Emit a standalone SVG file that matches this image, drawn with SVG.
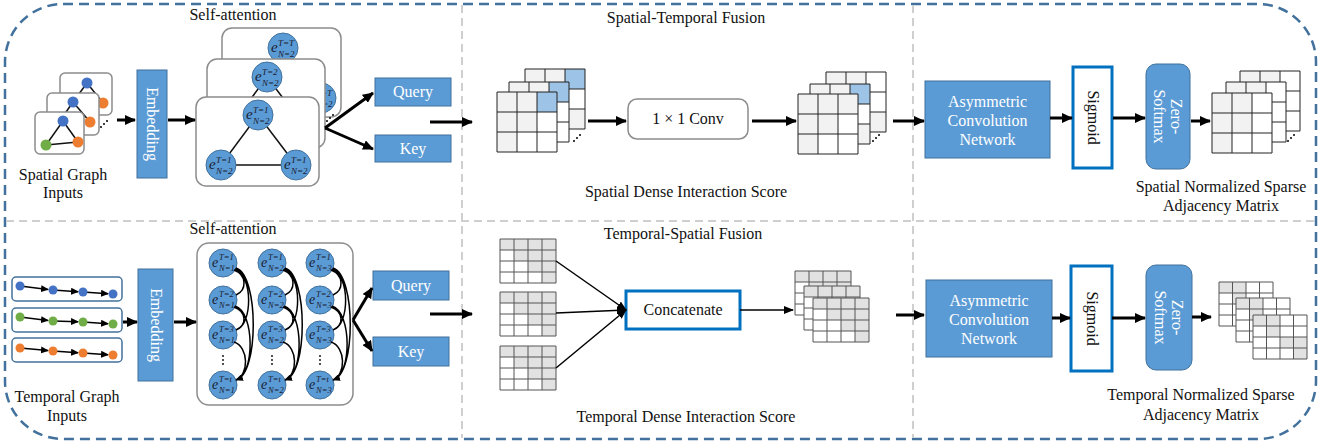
<svg xmlns="http://www.w3.org/2000/svg" width="1322" height="444" viewBox="0 0 1322 444">
<defs>
<style>
.t{font-family:"Liberation Serif","Times New Roman",serif;font-size:16px;fill:#111}
.w{fill:#fff}
.bx{fill:#5b9bd5;stroke:#41719c;stroke-width:1}
.card{fill:#fff;stroke:#8c8c8c;stroke-width:1.5}
.arr{fill:none;stroke:#000;stroke-width:3;marker-end:url(#ah)}
.thin{fill:none;stroke:#000;stroke-width:1.5;marker-end:url(#am)}
.arc{fill:none;stroke:#000;stroke-width:1.5;marker-end:url(#as)}
.edge{stroke:#111;stroke-width:1.5}
.en{fill:#5b9bd5;stroke:#41719c;stroke-width:1}
.e{font-family:"Liberation Serif","Times New Roman",serif;font-style:italic;font-size:15px;fill:#1a1a2e}
.e2{font-family:"Liberation Serif","Times New Roman",serif;font-style:italic;font-size:14px;fill:#1a1a2e}
.s{font-size:9px}
.s2{font-size:8.5px}
.gl{fill:none;stroke:#222;stroke-width:1}
.gl2{fill:none;stroke:#555;stroke-width:1}
.g{fill:#f2f2f2}
.bl{fill:#9dc3e6}
.wh{fill:#fff}
.g2{fill:#e2e2e2}
.nb{fill:#4472c4}
.no{fill:#ed7d31}
.ng{fill:#70ad47}
.blk{fill:#000}
.div{fill:none;stroke:#cfcfcf;stroke-width:2;stroke-dasharray:8 5}
.tr{fill:#fff;stroke:#41719c;stroke-width:1.5}
.ob{fill:#fff;stroke:#0070c0;stroke-width:3}
</style>
<marker id="ah" markerUnits="userSpaceOnUse" markerWidth="12" markerHeight="10" refX="10" refY="5" orient="auto"><path d="M0,0 L11,5 L0,10 z" fill="#000"/></marker>
<marker id="am" markerUnits="userSpaceOnUse" markerWidth="10" markerHeight="8" refX="9" refY="4" orient="auto"><path d="M0,0 L10,4 L0,8 z" fill="#000"/></marker>
<marker id="as" markerUnits="userSpaceOnUse" markerWidth="8" markerHeight="7" refX="7" refY="3.5" orient="auto"><path d="M0,0 L8,3.5 L0,7 z" fill="#000"/></marker>
<path id="grid3" d="M0,0h60v60h-60z M20,0v60 M40,0v60 M0,20h60 M0,40h60"/>
<path id="grid4s" d="M0,0h54v44h-54z M13.5,0v44 M27,0v44 M40.5,0v44 M0,11h54 M0,22h54 M0,33h54"/>
<g id="ut">
<rect width="56" height="44" fill="#fff"/>
<path d="M0,0H56V44H42V33H28V22H14V11H0z" fill="#e2e2e2"/>
<path d="M0,0h56v44h-56z M14,0v44 M28,0v44 M42,0v44 M0,11h56 M0,22h56 M0,33h56" fill="none" stroke="#555" stroke-width="1"/>
</g>
</defs>

<g id="frame">
<rect x="5" y="4" width="1311" height="435" rx="58" fill="none" stroke="#41719c" stroke-width="2.5" stroke-dasharray="10 6"/>
<line class="div" x1="462" y1="5" x2="462" y2="438"/>
<line class="div" x1="913" y1="5" x2="913" y2="438"/>
<line class="div" x1="6" y1="221" x2="1315" y2="221"/>
</g>

<!-- ===== Top row ===== -->
<g id="spatial-inputs">
<rect class="card" x="60" y="73" width="52" height="42" rx="5"/>
<line class="edge" x1="87" y1="83" x2="103" y2="103"/>
<line class="edge" x1="87" y1="83" x2="70" y2="106"/>
<circle class="nb" cx="87" cy="83" r="5.5"/>
<circle class="no" cx="103" cy="103" r="5.5"/>
<rect class="card" x="47" y="93" width="52" height="42" rx="5"/>
<line class="edge" x1="73" y1="102" x2="90" y2="122"/>
<line class="edge" x1="73" y1="102" x2="57" y2="125"/>
<circle class="nb" cx="73" cy="102" r="5.5"/>
<circle class="no" cx="90" cy="122" r="5.5"/>
<rect class="card" x="35" y="112" width="49" height="42" rx="5"/>
<line class="edge" x1="63" y1="121" x2="46" y2="145"/>
<line class="edge" x1="63" y1="121" x2="78" y2="142"/>
<line class="edge" x1="46" y1="145" x2="78" y2="142"/>
<circle class="nb" cx="63" cy="121" r="5.5"/>
<circle class="ng" cx="46" cy="145" r="5.5"/>
<circle class="no" cx="78" cy="142" r="5.5"/>
<circle class="blk" cx="101" cy="127" r="1"/><circle class="blk" cx="104" cy="124" r="1"/><circle class="blk" cx="107" cy="121" r="1"/>
<text class="t" x="63" y="180" text-anchor="middle">Spatial Graph</text>
<text class="t" x="63" y="198" text-anchor="middle">Inputs</text>
</g>

<g id="embedding-top">
<rect class="bx" x="137" y="70" width="30" height="108"/>
<text class="t w" transform="translate(152,124) rotate(90)" y="5" text-anchor="middle">Embedding</text>
</g>

<g id="self-attention-spatial">
<text class="t" x="233" y="20" text-anchor="middle">Self-attention</text>
<rect class="card" x="222" y="28" width="119" height="89" rx="10"/>
<line class="edge" x1="283" y1="48" x2="321" y2="98"/>
<line class="edge" x1="283" y1="48" x2="246" y2="98"/>
<circle class="en" cx="283" cy="48" r="15"/>
<text class="e" x="271" y="52">e<tspan class="s" x="278" y="46">T=T</tspan><tspan class="s" x="278" y="57">N=2</tspan></text>
<circle class="en" cx="321" cy="98" r="15"/>
<text class="e" x="309" y="102">e<tspan class="s" x="316" y="96">T=T</tspan><tspan class="s" x="316" y="107">N=2</tspan></text>
<rect class="card" x="207" y="59" width="118" height="89" rx="10"/>
<line class="edge" x1="267" y1="77" x2="230" y2="127"/>
<line class="edge" x1="267" y1="77" x2="305" y2="127"/>
<circle class="en" cx="267" cy="77" r="15"/>
<text class="e" x="255" y="81">e<tspan class="s" x="262" y="75">T=2</tspan><tspan class="s" x="262" y="86">N=2</tspan></text>
<rect class="card" x="196" y="97" width="123" height="89" rx="10"/>
<line class="edge" x1="258" y1="115" x2="221" y2="165"/>
<line class="edge" x1="258" y1="115" x2="296" y2="165"/>
<line class="edge" x1="221" y1="165" x2="296" y2="165"/>
<circle class="en" cx="258" cy="115" r="15"/>
<text class="e" x="246" y="119">e<tspan class="s" x="253" y="113">T=1</tspan><tspan class="s" x="253" y="124">N=2</tspan></text>
<circle class="en" cx="221" cy="165" r="15"/>
<text class="e" x="209" y="169">e<tspan class="s" x="216" y="163">T=1</tspan><tspan class="s" x="216" y="174">N=2</tspan></text>
<circle class="en" cx="296" cy="165" r="15"/>
<text class="e" x="284" y="169">e<tspan class="s" x="291" y="163">T=1</tspan><tspan class="s" x="291" y="174">N=2</tspan></text>
<circle class="blk" cx="327" cy="121" r="1"/><circle class="blk" cx="330" cy="118" r="1"/><circle class="blk" cx="333" cy="115" r="1"/>
</g>

<g id="query-top">
<rect class="bx" x="375" y="78" width="76" height="28"/>
<text class="t w" x="413" y="97" text-anchor="middle">Query</text>
</g>
<g id="key-top">
<rect class="bx" x="375" y="135" width="76" height="27"/>
<text class="t w" x="413" y="154" text-anchor="middle">Key</text>
</g>

<g id="spatial-fusion-title">
<text class="t" x="686" y="23" text-anchor="middle">Spatial-Temporal Fusion</text>
</g>

<g id="spatial-score-in">
<rect class="g" x="525" y="69" width="60" height="60"/>
<rect class="bl" x="565" y="69" width="20" height="20"/>
<rect class="wh" x="565" y="89" width="20" height="20"/>
<use href="#grid3" class="gl" x="525" y="69"/>
<rect class="g" x="509" y="82" width="60" height="60"/>
<rect class="bl" x="549" y="82" width="20" height="20"/>
<rect class="wh" x="549" y="102" width="20" height="40"/>
<use href="#grid3" class="gl" x="509" y="82"/>
<rect class="g" x="497" y="92" width="60" height="60"/>
<rect class="bl" x="537" y="92" width="20" height="20"/>
<rect class="wh" x="537" y="112" width="20" height="40"/>
<rect class="wh" x="517" y="132" width="20" height="20"/>
<use href="#grid3" class="gl" x="497" y="92"/>
<circle class="blk" cx="574" cy="141" r="1"/><circle class="blk" cx="577" cy="138" r="1"/><circle class="blk" cx="580" cy="135" r="1"/>
</g>

<g id="conv">
<rect x="628" y="99" width="120" height="40" rx="9" fill="#fff" stroke="#8c8c8c" stroke-width="1.5"/>
<text class="t" x="688" y="124" text-anchor="middle">1 × 1 Conv</text>
</g>

<g id="spatial-score-out">
<rect class="g" x="826" y="72" width="60" height="60"/>
<rect class="wh" x="866" y="72" width="20" height="40"/>
<use href="#grid3" class="gl" x="826" y="72"/>
<rect class="g" x="810" y="84" width="60" height="60"/>
<rect class="bl" x="850" y="84" width="20" height="20"/>
<rect class="wh" x="850" y="104" width="20" height="20"/>
<use href="#grid3" class="gl" x="810" y="84"/>
<rect class="g" x="798" y="94" width="60" height="60"/>
<rect class="wh" x="838" y="114" width="20" height="40"/>
<rect class="wh" x="818" y="134" width="20" height="20"/>
<use href="#grid3" class="gl" x="798" y="94"/>
<circle class="blk" cx="873" cy="141" r="1"/><circle class="blk" cx="876" cy="138" r="1"/><circle class="blk" cx="879" cy="135" r="1"/>
<text class="t" x="686" y="197" text-anchor="middle">Spatial Dense Interaction Score</text>
</g>

<g id="acn-top">
<rect class="bx" x="925" y="81" width="125" height="77"/>
<text class="t w" x="987.5" y="107" text-anchor="middle">Asymmetric</text>
<text class="t w" x="987.5" y="126" text-anchor="middle">Convolution</text>
<text class="t w" x="987.5" y="145" text-anchor="middle">Network</text>
</g>
<g id="sigmoid-top">
<rect class="ob" x="1073" y="67" width="39" height="101"/>
<text class="t" transform="translate(1092.5,117.5) rotate(90)" y="5" text-anchor="middle">Sigmoid</text>
</g>
<g id="softmax-top">
<rect class="bx" x="1146" y="64" width="44" height="105" rx="10"/>
<text class="t w" transform="translate(1168,116.5) rotate(90)" text-anchor="middle"><tspan x="0" y="-3">Zero-</tspan><tspan x="0" y="14">Softmax</tspan></text>
</g>

<g id="spatial-sparse">
<rect class="g" x="1240" y="71" width="60" height="60"/>
<rect class="wh" x="1280" y="71" width="20" height="60"/>
<rect class="wh" x="1260" y="111" width="20" height="20"/>
<use href="#grid3" class="gl" x="1240" y="71"/>
<rect class="g" x="1226" y="82" width="60" height="60"/>
<rect class="wh" x="1266" y="82" width="20" height="60"/>
<rect class="wh" x="1246" y="122" width="20" height="20"/>
<use href="#grid3" class="gl" x="1226" y="82"/>
<rect class="g" x="1212" y="93" width="60" height="60"/>
<rect class="wh" x="1252" y="93" width="20" height="60"/>
<rect class="wh" x="1232" y="133" width="20" height="20"/>
<use href="#grid3" class="gl" x="1212" y="93"/>
<circle class="blk" cx="1288" cy="141" r="1"/><circle class="blk" cx="1291" cy="138" r="1"/><circle class="blk" cx="1294" cy="135" r="1"/>
<text class="t" x="1221" y="192" text-anchor="middle">Spatial Normalized Sparse</text>
<text class="t" x="1221" y="211" text-anchor="middle">Adjacency Matrix</text>
</g>

<!-- ===== Bottom row ===== -->
<g id="temporal-inputs">
<rect class="tr" x="12" y="277" width="110" height="24" rx="4"/>
<rect class="tr" x="12" y="308" width="110" height="24" rx="4"/>
<rect class="tr" x="12" y="338" width="110" height="24" rx="4"/>
<text class="t" x="67" y="402" text-anchor="middle">Temporal Graph</text>
<text class="t" x="67" y="421" text-anchor="middle">Inputs</text>
</g>

<g id="embedding-bottom">
<rect class="bx" x="138" y="269" width="35" height="112"/>
<text class="t w" transform="translate(155.5,325) rotate(90)" y="5" text-anchor="middle">Embedding</text>
</g>

<g id="self-attention-temporal">
<text class="t" x="233" y="234" text-anchor="middle">Self-attention</text>
<rect class="card" x="197" y="243" width="156" height="162" rx="12"/>
<circle class="en" cx="223" cy="263" r="14"/><circle class="en" cx="272" cy="263" r="14"/><circle class="en" cx="320" cy="263" r="14"/>
<circle class="en" cx="223" cy="300" r="14"/><circle class="en" cx="272" cy="300" r="14"/><circle class="en" cx="320" cy="300" r="14"/>
<circle class="en" cx="223" cy="335" r="14"/><circle class="en" cx="272" cy="335" r="14"/><circle class="en" cx="320" cy="335" r="14"/>
<circle class="en" cx="223" cy="385" r="14"/><circle class="en" cx="272" cy="385" r="14"/><circle class="en" cx="320" cy="385" r="14"/>
<text class="e2" x="212" y="267">e<tspan class="s2" x="219" y="260">T=1</tspan><tspan class="s2" x="219" y="271">N=1</tspan></text>
<text class="e2" x="261" y="267">e<tspan class="s2" x="268" y="260">T=1</tspan><tspan class="s2" x="268" y="271">N=2</tspan></text>
<text class="e2" x="309" y="267">e<tspan class="s2" x="316" y="260">T=1</tspan><tspan class="s2" x="316" y="271">N=3</tspan></text>
<text class="e2" x="212" y="304">e<tspan class="s2" x="219" y="297">T=2</tspan><tspan class="s2" x="219" y="308">N=1</tspan></text>
<text class="e2" x="261" y="304">e<tspan class="s2" x="268" y="297">T=2</tspan><tspan class="s2" x="268" y="308">N=2</tspan></text>
<text class="e2" x="309" y="304">e<tspan class="s2" x="316" y="297">T=2</tspan><tspan class="s2" x="316" y="308">N=3</tspan></text>
<text class="e2" x="212" y="339">e<tspan class="s2" x="219" y="332">T=3</tspan><tspan class="s2" x="219" y="343">N=1</tspan></text>
<text class="e2" x="261" y="339">e<tspan class="s2" x="268" y="332">T=3</tspan><tspan class="s2" x="268" y="343">N=2</tspan></text>
<text class="e2" x="309" y="339">e<tspan class="s2" x="316" y="332">T=3</tspan><tspan class="s2" x="316" y="343">N=3</tspan></text>
<text class="e2" x="212" y="389">e<tspan class="s2" x="219" y="382">T=t</tspan><tspan class="s2" x="219" y="393">N=1</tspan></text>
<text class="e2" x="261" y="389">e<tspan class="s2" x="268" y="382">T=t</tspan><tspan class="s2" x="268" y="393">N=2</tspan></text>
<text class="e2" x="309" y="389">e<tspan class="s2" x="316" y="382">T=t</tspan><tspan class="s2" x="316" y="393">N=3</tspan></text>
<circle class="blk" cx="223" cy="356" r="0.9"/><circle class="blk" cx="223" cy="360" r="0.9"/><circle class="blk" cx="223" cy="364" r="0.9"/>
<circle class="blk" cx="272" cy="356" r="0.9"/><circle class="blk" cx="272" cy="360" r="0.9"/><circle class="blk" cx="272" cy="364" r="0.9"/>
<circle class="blk" cx="320" cy="356" r="0.9"/><circle class="blk" cx="320" cy="360" r="0.9"/><circle class="blk" cx="320" cy="364" r="0.9"/>
</g>

<g id="query-bottom">
<rect class="bx" x="373" y="271" width="76" height="29"/>
<text class="t w" x="411" y="291" text-anchor="middle">Query</text>
</g>
<g id="key-bottom">
<rect class="bx" x="373" y="337" width="76" height="29"/>
<text class="t w" x="411" y="357" text-anchor="middle">Key</text>
</g>

<g id="temporal-fusion-title">
<text class="t" x="683" y="239" text-anchor="middle">Temporal-Spatial Fusion</text>
</g>

<g id="temporal-score-in">
<use href="#ut" x="500" y="239"/>
<use href="#ut" x="500" y="292"/>
<use href="#ut" x="500" y="346"/>
</g>

<g id="concatenate">
<rect class="ob" x="626" y="291" width="114" height="38"/>
<text class="t" x="683" y="315" text-anchor="middle">Concatenate</text>
</g>

<g id="temporal-score-out">
<use href="#ut" x="795" y="271"/>
<use href="#ut" x="804" y="286"/>
<use href="#ut" x="813" y="298"/>
<text class="t" x="686" y="422" text-anchor="middle">Temporal Dense Interaction Score</text>
</g>

<g id="acn-bottom">
<rect class="bx" x="926" y="280" width="126" height="77"/>
<text class="t w" x="989" y="306" text-anchor="middle">Asymmetric</text>
<text class="t w" x="989" y="325" text-anchor="middle">Convolution</text>
<text class="t w" x="989" y="344" text-anchor="middle">Network</text>
</g>
<g id="sigmoid-bottom">
<rect class="ob" x="1071" y="266" width="41" height="105"/>
<text class="t" transform="translate(1091.5,318.5) rotate(90)" y="5" text-anchor="middle">Sigmoid</text>
</g>
<g id="softmax-bottom">
<rect class="bx" x="1146" y="265" width="46" height="105" rx="10"/>
<text class="t w" transform="translate(1169,317.5) rotate(90)" text-anchor="middle"><tspan x="0" y="-3">Zero-</tspan><tspan x="0" y="14">Softmax</tspan></text>
</g>

<g id="temporal-sparse">
<rect class="wh" x="1219" y="282" width="54" height="44"/>
<rect class="g2" x="1219" y="282" width="27" height="11"/>
<rect class="g2" x="1232.5" y="293" width="13.5" height="11"/>
<use href="#grid4s" class="gl2" x="1219" y="282"/>
<rect class="wh" x="1236" y="298" width="54" height="44"/>
<rect class="g2" x="1236" y="298" width="27" height="11"/>
<rect class="g2" x="1249.5" y="309" width="13.5" height="11"/>
<use href="#grid4s" class="gl2" x="1236" y="298"/>
<rect class="wh" x="1253" y="315" width="54" height="44"/>
<rect class="g2" x="1253" y="315" width="27" height="11"/>
<rect class="g2" x="1266.5" y="326" width="13.5" height="11"/>
<rect class="g2" x="1280" y="337" width="27" height="11"/>
<rect class="g2" x="1293.5" y="348" width="13.5" height="11"/>
<use href="#grid4s" class="gl2" x="1253" y="315"/>
<text class="t" x="1201" y="400" text-anchor="middle">Temporal Normalized Sparse</text>
<text class="t" x="1201" y="420" text-anchor="middle">Adjacency Matrix</text>
</g>

<g id="connectors">
<line class="arr" x1="117" y1="120" x2="135" y2="120"/>
<line class="arr" x1="168" y1="120" x2="195" y2="120"/>
<line class="arr" x1="325" y1="128" x2="373" y2="93"/>
<line class="arr" x1="325" y1="128" x2="373" y2="149"/>
<line class="arr" x1="430" y1="122" x2="472" y2="122"/>
<line class="arr" x1="588" y1="121" x2="626" y2="121"/>
<line class="arr" x1="752" y1="121" x2="796" y2="121"/>
<line class="arr" x1="893" y1="121" x2="924" y2="121"/>
<line class="arr" x1="1050" y1="118" x2="1072" y2="118"/>
<line class="arr" x1="1113" y1="118" x2="1145" y2="118"/>
<line class="arr" x1="1191" y1="121" x2="1210" y2="121"/>
<line class="arr" x1="123" y1="322" x2="137" y2="322"/>
<line class="arr" x1="174" y1="322" x2="196" y2="322"/>
<line class="arr" x1="353" y1="320" x2="372" y2="288"/>
<line class="arr" x1="353" y1="320" x2="372" y2="351"/>
<line class="arr" x1="430" y1="314" x2="472" y2="314"/>
<line class="arr" x1="896" y1="315" x2="924" y2="315"/>
<line class="arr" x1="1052" y1="318" x2="1070" y2="318"/>
<line class="arr" x1="1112" y1="318" x2="1145" y2="318"/>
<line class="arr" x1="1192" y1="317" x2="1211" y2="317"/>
<line class="thin" x1="556" y1="261" x2="626" y2="310"/>
<line class="thin" x1="556" y1="313" x2="626" y2="310"/>
<line class="thin" x1="556" y1="368" x2="626" y2="310"/>
<line class="thin" x1="740" y1="310" x2="793" y2="310"/>
<!-- temporal input chains -->
<line class="arc" x1="20" y1="286" x2="48" y2="289.5"/>
<line class="arc" x1="53" y1="290" x2="78" y2="291.7"/>
<line class="arc" x1="83" y1="292" x2="108" y2="293.7"/>
<line class="arc" x1="20" y1="317" x2="48" y2="320.5"/>
<line class="arc" x1="53" y1="321" x2="78" y2="321.8"/>
<line class="arc" x1="83" y1="322" x2="108" y2="323.7"/>
<line class="arc" x1="20" y1="348" x2="48" y2="350.6"/>
<line class="arc" x1="53" y1="351" x2="78" y2="352.7"/>
<line class="arc" x1="83" y1="353" x2="108" y2="354.7"/>
<!-- temporal self-attention arcs -->
<path class="arc" d="M234,270 C247,275 247,290 236,295 M235,269 C253,275 253,325 236,330 M236,268 C259,275 259,375 236,380 M234,307 C247,312 247,325 236,330 M235,306 C255,312 255,375 236,380 M234,342 C249,347 249,375 236,380"/>
<path class="arc" d="M283,270 C296,275 296,290 285,295 M284,269 C302,275 302,325 285,330 M285,268 C308,275 308,375 285,380 M283,307 C296,312 296,325 285,330 M284,306 C304,312 304,375 285,380 M283,342 C298,347 298,375 285,380"/>
<path class="arc" d="M331,270 C344,275 344,290 333,295 M332,269 C350,275 350,325 333,330 M333,268 C356,275 356,375 333,380 M331,307 C344,312 344,325 333,330 M332,306 C352,312 352,375 333,380 M331,342 C346,347 346,375 333,380"/>
</g>

<g id="temporal-input-nodes">
<circle class="nb" cx="20" cy="286" r="4.5"/><circle class="nb" cx="53" cy="290" r="4.5"/><circle class="nb" cx="83" cy="292" r="4.5"/><circle class="nb" cx="113" cy="294" r="4.5"/>
<circle class="ng" cx="20" cy="317" r="4.5"/><circle class="ng" cx="53" cy="321" r="4.5"/><circle class="ng" cx="83" cy="322" r="4.5"/><circle class="ng" cx="113" cy="324" r="4.5"/>
<circle class="no" cx="20" cy="348" r="4.5"/><circle class="no" cx="53" cy="351" r="4.5"/><circle class="no" cx="83" cy="353" r="4.5"/><circle class="no" cx="113" cy="355" r="4.5"/>
</g>
</svg>
